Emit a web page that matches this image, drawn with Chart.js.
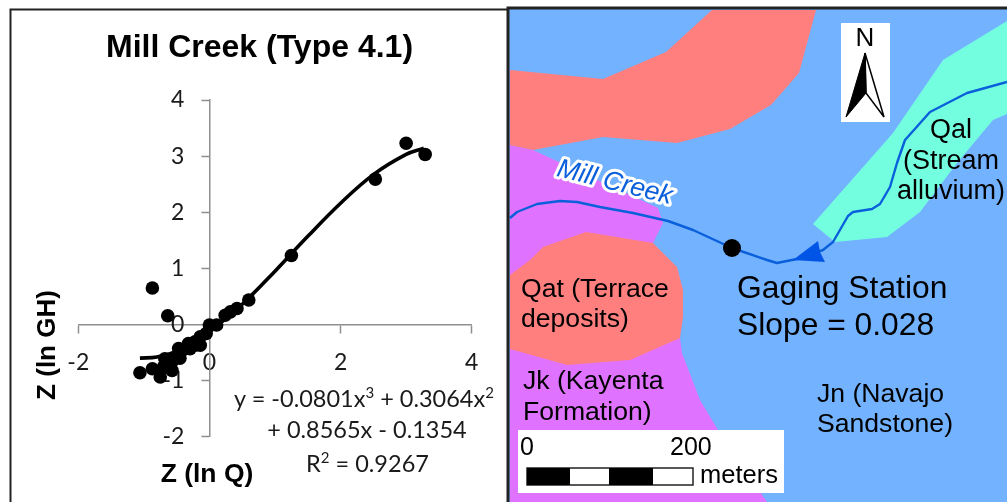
<!DOCTYPE html>
<html>
<head>
<meta charset="utf-8">
<script src="https://cdn.jsdelivr.net/npm/chart.js@4"></script>
<style>
html,body{margin:0;padding:0;background:#fff;overflow:hidden}
#wrap{position:relative;width:1007px;height:502px;overflow:hidden;filter:blur(.45px)}
#c{position:absolute;left:0;top:0;width:519px;height:502px}
#ov{position:absolute;left:0;top:0}
.a{font-family:"Liberation Sans",Arial,sans-serif;fill:#000}
.eq{font-family:Lato,sans-serif;font-size:23.5px;fill:#1a1a1a;text-anchor:middle}
</style>
</head>
<body>
<div id="wrap">
<canvas id="c" width="519" height="502"></canvas>
<svg id="ov" width="1007" height="502" viewBox="0 0 1007 502">
  <!-- left panel frame -->
  <path d="M10.5 502V9.5H507" fill="none" stroke="#222" stroke-width="2"/>
  <text class="a" font-weight="bold" font-size="26.5" text-anchor="middle" x="207" y="482">Z (ln Q)</text>
  <text class="a" font-weight="bold" font-size="26" text-anchor="middle" transform="translate(55,345) rotate(-90)">Z (ln GH)</text>
  <text class="eq" x="364" y="407">y = -0.0801x<tspan font-size="15" dy="-9">3</tspan><tspan dy="9"> + 0.3064x</tspan><tspan font-size="15" dy="-9">2</tspan></text>
  <text class="eq" x="367" y="438">+ 0.8565x - 0.1354</text>
  <text class="eq" x="367.5" y="472">R<tspan font-size="15" dy="-9">2</tspan><tspan dy="9"> = 0.9267</tspan></text>

  <!-- map -->
  <rect x="508" y="8" width="499" height="494" fill="#73B2FF"/>
  <polygon fill="#DF73FF" points="510,145 533,150 658,208 663,223 653,243 680,338 682,353 700,400 718,430 767,502 510,502"/>
  <polygon fill="#FF7F7F" points="510,70 603,79 666,52 712,10 816,10 799,73 771,105 730,129 677,143 603,137 533,150 510,145"/>
  <polygon fill="#FF7F7F" points="510,275 530,260 543,247 586,232 653,243 668,258 677,267 683,290 683,317 680,338 630,360 567,365 510,349"/>
  <polygon fill="#73FFDF" points="813,224 893,133 943,60 1007,21 1007,114 993,120 957,163 920,212 887,237 835,242"/>
  <polyline fill="none" stroke="#0A5FDB" stroke-width="2.4" stroke-linejoin="round" points="510,218 517,212 537,204 560,201 577,202 600,207 633,213 668,221 693,230 732,248 767,260 777,263 797,259 823,250 833,242 848,216 853,212 872,209 880,204 890,187 897,163 905,140 930,112 967,93 1007,82"/>
  <polygon fill="#0055E6" points="818,241 793,260 825,262 820,252"/>
  <circle cx="732" cy="248" r="9" fill="#000"/>

  <rect x="841" y="23" width="49" height="99" fill="#fff"/>
  <text class="a" font-size="26" text-anchor="middle" x="865" y="46">N</text>
  <polygon points="865,53 884,117 866,93" fill="#fff" stroke="#000" stroke-width="1.5"/>
  <polygon points="865,53 846,117 866,93" fill="#000" stroke="#000" stroke-width="1"/>

  <g transform="translate(613,190) rotate(14)">
    <text class="a" font-size="26.5" font-style="italic" text-anchor="middle" style="fill:#fff;stroke:#fff;stroke-width:6;stroke-linejoin:round">Mill Creek</text>
    <text class="a" font-size="26.5" font-style="italic" text-anchor="middle" style="fill:#0A5FDB">Mill Creek</text>
  </g>

  <g font-size="27" text-anchor="middle">
    <text class="a" x="951" y="138">Qal</text>
    <text class="a" x="951" y="169">(Stream</text>
    <text class="a" x="951" y="199">alluvium)</text>
  </g>
  <g font-size="26.6">
    <text class="a" x="521" y="297">Qat (Terrace</text>
    <text class="a" x="521" y="327">deposits)</text>
    <text class="a" x="523" y="389">Jk (Kayenta</text>
    <text class="a" x="523" y="420">Formation)</text>
    <text class="a" x="817" y="402">Jn (Navajo</text>
    <text class="a" x="817" y="432">Sandstone)</text>
  </g>
  <g font-size="31.8">
    <text class="a" x="737" y="298">Gaging Station</text>
    <text class="a" x="737" y="335">Slope = 0.028</text>
  </g>

  <rect x="518" y="430" width="266" height="63" fill="#fff"/>
  <text class="a" font-size="25" x="520" y="455">0</text>
  <text class="a" font-size="25" x="670" y="455">200</text>
  <rect x="527" y="468" width="166" height="17" fill="#fff" stroke="#222" stroke-width="1.5"/>
  <rect x="527" y="468" width="43" height="17" fill="#000"/>
  <rect x="609" y="468" width="44" height="17" fill="#000"/>
  <text class="a" font-size="25.5" x="700" y="483">meters</text>

  <path d="M508 502V8H1007" fill="none" stroke="#222" stroke-width="3"/>
</svg>
</div>
<script>
const zQ = [-0.87,-0.636,-1.06,-0.87,-0.75,-0.70,-0.63,-0.68,-0.575,-0.57,-0.50,-0.47,-0.45,-0.40,-0.32,-0.295,-0.22,-0.22,-0.14,-0.14,-0.05,0,0.11,0.24,0.32,0.42,0.6,1.25,2.53,3.0,3.29];
const zGH = [0.65,0.155,-0.86,-0.79,-0.935,-0.76,-0.76,-0.61,-0.67,-0.82,-0.58,-0.43,-0.60,-0.45,-0.34,-0.43,-0.31,-0.37,-0.37,-0.22,-0.16,-0.01,-0.01,0.165,0.225,0.285,0.435,1.23,2.59,3.23,3.03];
const trendX = [-1.06,-0.8,-0.5,-0.25,0,0.5,1,1.5,2,2.5,3,3.27];
const trendY = [-0.60,-0.58,-0.48,-0.33,-0.135,0.36,0.95,1.57,2.16,2.67,3.03,3.14];
const tickValues = [-2,-1,0,1,2,3,4];
const xTickValues = [-2,0,2,4];

const pts = (xs, ys) => xs.map((x, i) => ({x, y: ys[i]}));
const axisGrey = '#8f8f8f';
const tickFont = {family: 'Lato', size: 23};

// The y axis sits on x = 0 while its labels keep their padding and left-hand placement.
const yAxisOnZero = {
  id: 'yAxisOnZero',
  afterLayout(chart) {
    const y = chart.scales.y;
    y.right = chart.scales.x.getPixelForValue(0);
    y.left = 0;
  }
};

new Chart(document.getElementById('c'), {
  type: 'scatter',
  plugins: [yAxisOnZero],
  data: {
    datasets: [
      {data: pts(trendX, trendY), showLine: true, borderColor: '#000', borderWidth: 3.6, pointRadius: 0, tension: 0.4, fill: false, order: 2},
      {data: pts(zQ, zGH), backgroundColor: '#000', borderColor: '#000', pointRadius: 6.8, pointBorderWidth: 0, order: 1}
    ]
  },
  options: {
    responsive: false,
    animation: false,
    devicePixelRatio: 1,
    layout: {padding: {left: 47.3, right: 47.3, top: 0, bottom: 65.3}},
    plugins: {
      legend: {display: false},
      tooltip: {enabled: false},
      title: {
        display: true,
        text: 'Mill Creek (Type 4.1)',
        color: '#000',
        font: {family: 'Liberation Sans', size: 32, weight: 'bold', lineHeight: 1.2},
        padding: {top: 29, bottom: 32.6}
      }
    },
    scales: {
      x: {
        type: 'linear', min: -2, max: 4,
        position: {y: 0},
        afterBuildTicks: s => { s.ticks = xTickValues.map(value => ({value})); },
        ticks: {font: tickFont, color: '#1a1a1a', padding: 16, maxRotation: 0, autoSkip: false},
        grid: {drawOnChartArea: false, drawTicks: true, tickLength: 8, tickColor: axisGrey, tickWidth: 1.5},
        border: {color: axisGrey, width: 1.5}
      },
      y: {
        type: 'linear', min: -2, max: 4,
        position: 'left',
        afterFit: s => { s.width = 31; },
        afterBuildTicks: s => { s.ticks = tickValues.map(value => ({value})); },
        ticks: {font: tickFont, color: '#1a1a1a', padding: 17, autoSkip: false},
        grid: {drawOnChartArea: false, drawTicks: true, tickLength: 8, tickColor: axisGrey, tickWidth: 1.5},
        border: {color: axisGrey, width: 1.5}
      }
    }
  }
});
</script>
</body>
</html>
